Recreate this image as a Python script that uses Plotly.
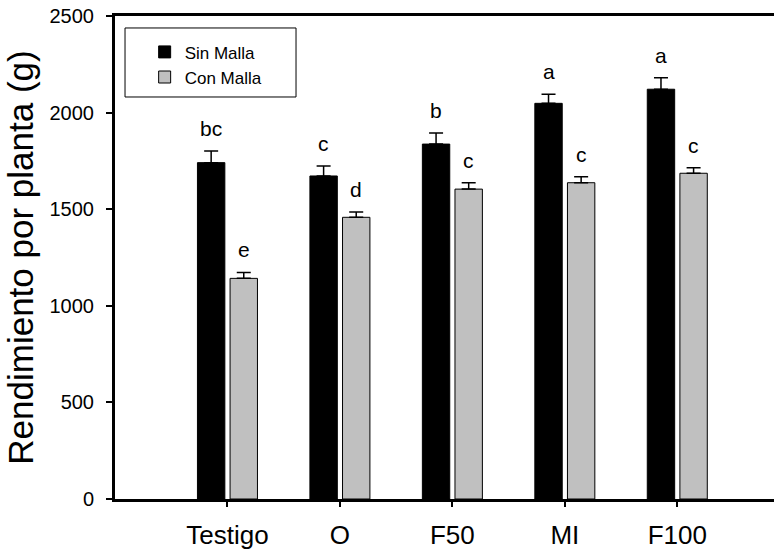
import plotly.graph_objects as go

categories = ["Testigo", "O", "F50", "MI", "F100"]
sin_malla = [1741, 1672, 1837, 2048, 2121]
sin_err = [60, 52, 57, 47, 60]
con_malla = [1142, 1458, 1604, 1637, 1686]
con_err = [31, 27, 33, 31, 29]
sin_letters = ["bc", "c", "b", "a", "a"]
con_letters = ["e", "d", "c", "c", "c"]
y_ticks = [0, 500, 1000, 1500, 2000, 2500]

FONT = "Liberation Sans, Arial, sans-serif"
BARGAP = 0.42
BARGROUPGAP = 0.16

fig = go.Figure()
fig.add_trace(go.Bar(
    name="Sin Malla", x=categories, y=sin_malla,
    marker=dict(color="black", line=dict(color="black", width=1)),
    error_y=dict(type="data", symmetric=False, array=sin_err,
                 arrayminus=[0] * len(sin_err), color="black", thickness=1.5, width=7),
))
fig.add_trace(go.Bar(
    name="Con Malla", x=categories, y=con_malla,
    marker=dict(color="#c0c0c0", line=dict(color="black", width=1)),
    error_y=dict(type="data", symmetric=False, array=con_err,
                 arrayminus=[0] * len(con_err), color="black", thickness=1.5, width=7),
))

off = (1 - BARGAP) / 4
for i, cat in enumerate(categories):
    fig.add_annotation(x=i - off, y=sin_malla[i] + sin_err[i], xref="x", yref="y",
                       text=sin_letters[i], showarrow=False, yanchor="bottom", yshift=9,
                       font=dict(family=FONT, size=21, color="black"))
    fig.add_annotation(x=i + off, y=con_malla[i] + con_err[i], xref="x", yref="y",
                       text=con_letters[i], showarrow=False, yanchor="bottom", yshift=9,
                       font=dict(family=FONT, size=21, color="black"))

# legend frame
fig.add_shape(type="rect", xref="paper", yref="paper",
              x0=0.0152, x1=0.2747, y0=0.8323, y1=0.9752,
              line=dict(color="black", width=1), fillcolor="rgba(0,0,0,0)")

fig.update_layout(
    width=774, height=550,
    margin=dict(l=115, r=0, t=16, b=51),
    paper_bgcolor="white", plot_bgcolor="white",
    barmode="group", bargap=BARGAP, bargroupgap=BARGROUPGAP,
    font=dict(family=FONT, color="black"),
    showlegend=True,
    legend=dict(x=0.045, y=0.962, xanchor="left", yanchor="top",
                bgcolor="rgba(0,0,0,0)", borderwidth=0,
                font=dict(family=FONT, size=17, color="black"),
                tracegroupgap=0),
)
fig.update_xaxes(
    range=[-1, 4.86], showline=True, linecolor="black", linewidth=3, mirror=True,
    ticks="outside", ticklen=5, tickwidth=1.5, tickcolor="black", ticklabelstandoff=6,
    tickfont=dict(family=FONT, size=26, color="black"), showgrid=False, zeroline=False,
)
fig.update_yaxes(
    range=[0, 2500], tickvals=y_ticks, showline=True, linecolor="black", linewidth=3,
    mirror=False, ticks="outside", ticklen=6, tickwidth=1.5, tickcolor="black",
    ticklabelstandoff=8,
    tickfont=dict(family=FONT, size=20, color="black"), showgrid=False, zeroline=False,
    title=dict(text="Rendimiento por planta (g)", font=dict(family=FONT, size=35, color="black"),
               standoff=6),
)

fig.write_html("out.html")
